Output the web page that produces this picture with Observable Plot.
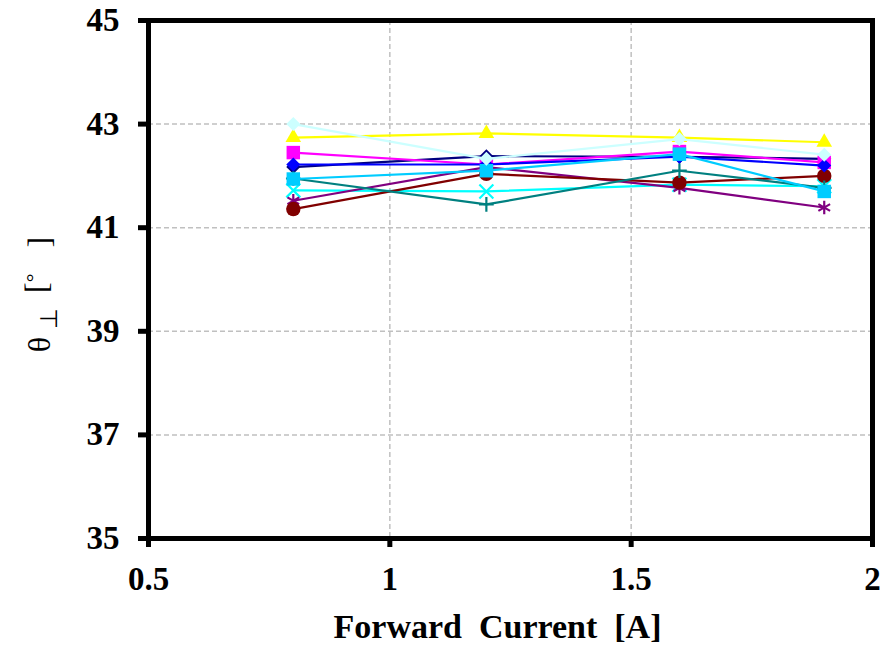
<!DOCTYPE html>
<html>
<head>
<meta charset="utf-8">
<script src="https://cdn.jsdelivr.net/npm/d3@7"></script>
<script src="https://cdn.jsdelivr.net/npm/@observablehq/plot@0.6"></script>
<style>
  html, body { margin: 0; padding: 0; background: #fff; }
</style>
</head>
<body>
<div id="chart"></div>
<script>
// Forward current (A)
const currents = [0.8, 1.2, 1.6, 1.9];

// Series values (θ⊥ in degrees)
const sNavy      = [42.17, 42.38, 42.37, 42.33];
const sMagenta   = [42.45, 42.22, 42.47, 42.26];
const sYellow    = [42.74, 42.82, 42.74, 42.65];
const sCyan      = [41.72, 41.70, 41.83, 41.80];
const sPurple    = [41.52, 42.17, 41.77, 41.39];
const sMaroon    = [41.36, 42.04, 41.87, 42.00];
const sTeal      = [41.95, 41.45, 42.10, 41.77];
const sBlue      = [42.22, 42.22, 42.37, 42.20];
const sSkyBlue   = [41.94, 42.10, 42.42, 41.70];
const sPale      = [43.00, 42.33, 42.71, 42.41];

const seriesValues = [sNavy, sMagenta, sYellow, sCyan, sPurple, sMaroon, sTeal, sBlue, sSkyBlue, sPale];
const seriesColors = ["#000080", "#FF00FF", "#FFFF00", "#00FFFF", "#800080", "#800000", "#008080", "#0000FF", "#00CCFF", "#CCFFFF"];
const seriesMarkers = ["diamond", "square", "triangle", "times", "asterisk", "circle", "plus", "diamond", "square", "diamond"];

const xTicks = [0.5, 1, 1.5, 2];
const yTicks = [35, 37, 39, 41, 43, 45];
const xGrid = [1, 1.5];
const yGrid = [37, 39, 41, 43];
const xLabel = "Forward\u00a0\u00a0Current\u00a0\u00a0[A]";
const yLabel = "θ⊥ [°]";

// filled diamond (square rotated 45°), Excel-like
const rhombus = {
  draw(ctx, size) {
    const r = Math.sqrt(size / 2);
    ctx.moveTo(0, -r); ctx.lineTo(r, 0); ctx.lineTo(0, r); ctx.lineTo(-r, 0); ctx.closePath();
  }
};
const markerSpec = {
  diamond:  {symbol: rhombus, r: 5.6, filled: true},
  square:   {symbol: "square", r: 7.6, filled: true},
  triangle: {symbol: "triangle", r: 5.8, filled: true},
  times:    {symbol: "times", r: 6.4, filled: false},
  asterisk: {symbol: "asterisk", r: 6.4, filled: false},
  circle:   {symbol: "circle", r: 7.2, filled: true},
  plus:     {symbol: "plus", r: 4.8, filled: false}
};

const marks = [
  Plot.gridY(yGrid, {stroke: "#c0c0c0", strokeOpacity: 1, strokeWidth: 1.5, strokeDasharray: "5,3"}),
  Plot.gridX(xGrid, {stroke: "#c0c0c0", strokeOpacity: 1, strokeWidth: 1.5, strokeDasharray: "5,3"})
];

seriesValues.forEach((vals, i) => {
  const data = currents.map((c, j) => ({x: c, y: vals[j]}));
  const color = seriesColors[i];
  const m = markerSpec[seriesMarkers[i]];
  marks.push(Plot.line(data, {x: "x", y: "y", stroke: color, strokeWidth: 2.2}));
  if (m.filled) {
    marks.push(Plot.dot(data, {x: "x", y: "y", symbol: m.symbol, r: m.r, fill: color, stroke: "none"}));
  } else {
    marks.push(Plot.dot(data, {x: "x", y: "y", symbol: m.symbol, r: m.r, fill: "none", stroke: color, strokeWidth: 2.2}));
  }
});

marks.push(
  Plot.frame({stroke: "black", strokeWidth: 5}),
  Plot.axisY(yTicks, {tickSize: 10, tickPadding: 19, strokeWidth: 5, fontSize: 33, fontWeight: "bold",
    tickFormat: d => String(d), label: null}),
  Plot.axisX(xTicks, {tickSize: 9, tickPadding: 19, strokeWidth: 5, fontSize: 33, fontWeight: "bold",
    tickFormat: d => String(d), label: null}),
  Plot.text([xLabel], {frameAnchor: "bottom", dx: -13, dy: 89, lineAnchor: "middle", textAnchor: "middle",
    fontSize: 34, fontWeight: "bold", text: d => d, fill: "black"}),
  Plot.text([yLabel], {frameAnchor: "left", dx: -109, dy: 15, rotate: -90, textAnchor: "middle",
    fontSize: 32, fontWeight: "normal", text: d => d, fill: "black"})
);

const chart = Plot.plot({
  width: 895,
  height: 648,
  marginLeft: 148,
  marginRight: 23,
  marginTop: 20,
  marginBottom: 110,
  x: {domain: [0.5, 2]},
  y: {domain: [35, 45]},
  style: {fontFamily: "'Liberation Serif', 'Times New Roman', serif", fontWeight: "bold", background: "white", overflow: "visible"},
  marks
});

document.getElementById("chart").appendChild(chart);

// spaced-out label with subscript ⊥ and superscript °
d3.select(chart).selectAll("text").filter(function () { return this.textContent === yLabel; }).each(function () {
  const t = d3.select(this);
  t.text(null);
  t.append("tspan").text("θ");
  t.append("tspan").attr("font-size", 24).attr("dx", 8).attr("dy", "0.3em").text("⊥");
  t.append("tspan").attr("dx", 15).attr("dy", "-0.3em").text("[");
  t.append("tspan").attr("font-size", 22).attr("dy", "-0.3em").text("°");
  t.append("tspan").attr("dx", 26).attr("dy", "0.3em").text("]");
});
</script>
</body>
</html>
